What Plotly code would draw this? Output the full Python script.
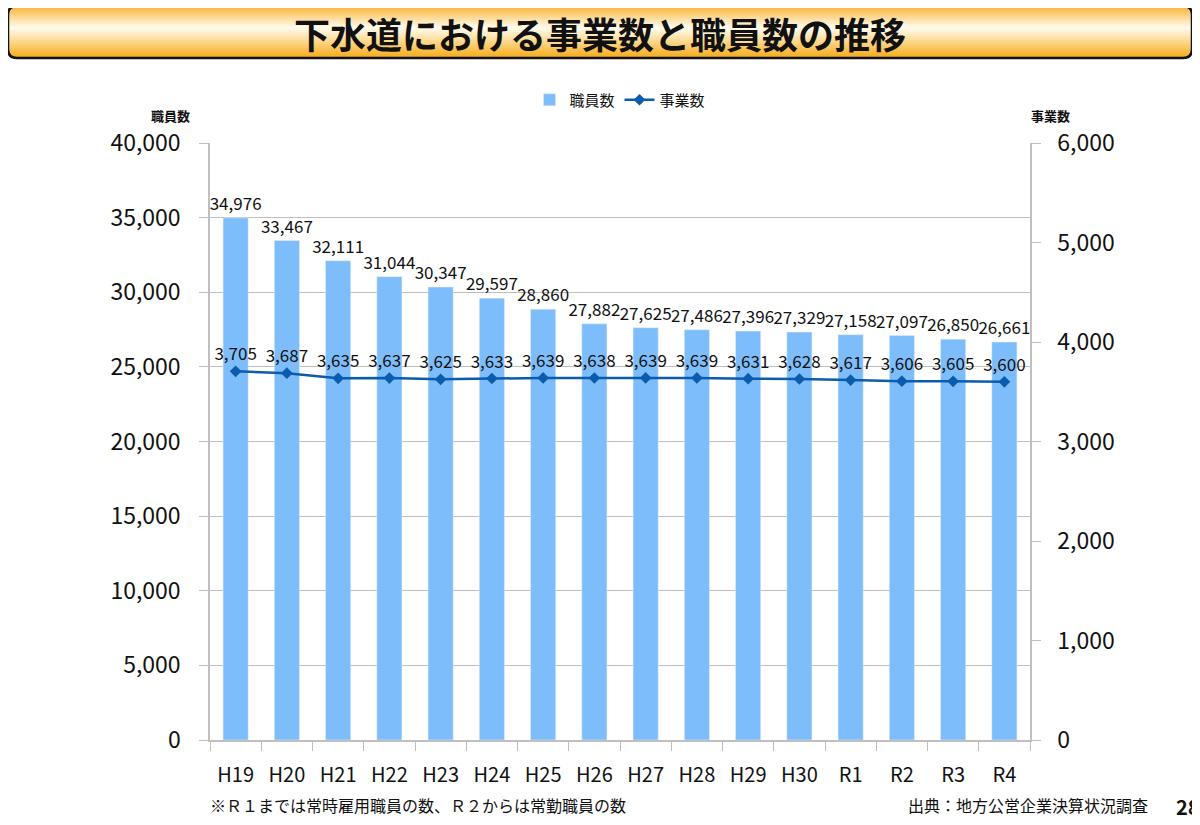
import plotly.graph_objects as go
from plotly.subplots import make_subplots

# --- データ ---
years = ["H19", "H20", "H21", "H22", "H23", "H24", "H25", "H26",
         "H27", "H28", "H29", "H30", "R1", "R2", "R3", "R4"]
staff = [34976, 33467, 32111, 31044, 30347, 29597, 28860, 27882,
         27625, 27486, 27396, 27329, 27158, 27097, 26850, 26661]
businesses = [3705, 3687, 3635, 3637, 3625, 3633, 3639, 3638,
              3639, 3639, 3631, 3628, 3617, 3606, 3605, 3600]

staff_ticks = [0, 5000, 10000, 15000, 20000, 25000, 30000, 35000, 40000]
biz_ticks = [0, 1000, 2000, 3000, 4000, 5000, 6000]

# ページの余白(8px)ぶんを差し引いて図を作る
OFF = 8
W, H = 1200 - OFF, 825 - OFF
L, R, T, B = 210 - OFF, 1030 - OFF, 143 - OFF, 740 - OFF  # プロット領域(px)

JP = "Noto Sans CJK JP"
BAR_COLOR = "#7DBDFB"
LINE_COLOR = "#0B5CAD"
GRID = "#BFBFBF"


def px_x(x):
    # 参照画像のx座標(px) -> paper座標
    return (x - OFF - L) / (R - L)


def px_y(y):
    return (B - (y - OFF)) / (B - T)


fig = make_subplots(specs=[[{"secondary_y": True}]])

fig.add_trace(go.Bar(
    x=years, y=staff, name="職員数",
    marker_color=BAR_COLOR, width=0.49,
    text=[f"{v:,}" for v in staff], textposition="outside",
    constraintext="none", cliponaxis=False,
    textfont=dict(family=JP, size=17, color="#111111"),
), secondary_y=False)

fig.add_trace(go.Scatter(
    x=years, y=businesses, name="事業数",
    mode="lines+markers+text",
    line=dict(color=LINE_COLOR, width=2.5),
    marker=dict(symbol="diamond", size=9, color=LINE_COLOR),
    text=[f"{v:,}" for v in businesses], textposition="top center",
    textfont=dict(family=JP, size=17, color="#111111"),
    cliponaxis=False,
), secondary_y=True)

# --- タイトル帯（グラデーション風） ---
shapes = []
top, bot = 6, 58
left, right = 8, 1192
n = 26
c_top = (248, 178, 50)
c_mid = (255, 252, 240)
c_bot = (247, 170, 20)
for i in range(n):
    y0 = top + (bot - top) * i / n
    y1 = top + (bot - top) * (i + 1) / n
    t = (i + 0.5) / n
    if t < 0.42:
        f = t / 0.42
        c = [c_top[k] + (c_mid[k] - c_top[k]) * f for k in range(3)]
    else:
        f = (t - 0.42) / 0.58
        c = [c_mid[k] + (c_bot[k] - c_mid[k]) * f for k in range(3)]
    inset = 5 if i in (0, n - 1) else (2 if i in (1, n - 2) else 0)
    shapes.append(dict(
        type="rect", xref="paper", yref="paper", layer="below",
        x0=px_x(left + inset), x1=px_x(right - inset),
        y0=px_y(y1 + 0.3), y1=px_y(y0),
        fillcolor="rgb({:.0f},{:.0f},{:.0f})".format(*c), line_width=0,
    ))

# 角丸の枠線
r = 9
rx, ry = r / (R - L), r / (B - T)
x0, x1 = px_x(left), px_x(right)
y0, y1 = px_y(bot), px_y(top)
path = (f"M {x0 + rx},{y1} L {x1 - rx},{y1} Q {x1},{y1} {x1},{y1 - ry} "
        f"L {x1},{y0 + ry} Q {x1},{y0} {x1 - rx},{y0} "
        f"L {x0 + rx},{y0} Q {x0},{y0} {x0},{y0 + ry} "
        f"L {x0},{y1 - ry} Q {x0},{y1} {x0 + rx},{y1} Z")
shapes.append(dict(type="path", xref="paper", yref="paper", path=path,
                   line=dict(color="#111111", width=2.5)))


def note(text, x, y, size, xanchor="center"):
    return dict(text=text, x=px_x(x), y=px_y(y), xref="paper", yref="paper",
                xanchor=xanchor, yanchor="middle", showarrow=False,
                font=dict(family=JP, size=size, color="#111111"))


annotations = [
    note("<b>下水道における事業数と職員数の推移</b>", 600, 33, 36),
    note("<b>職員数</b>", 170, 115, 13),
    note("<b>事業数</b>", 1050, 116, 13),
    note("※Ｒ１までは常時雇用職員の数、Ｒ２からは常勤職員の数", 208, 805, 16, "left"),
    note("出典：地方公営企業決算状況調査", 1150, 805, 16, "right"),
    note("<b>28</b>", 1174, 806, 20, "left"),
]

fig.update_layout(
    width=W, height=H,
    margin=dict(l=L, r=W - R, t=T, b=H - B, autoexpand=False),
    plot_bgcolor="white", paper_bgcolor="white",
    bargap=0.51,
    shapes=shapes, annotations=annotations,
    legend=dict(orientation="h", x=0.5, xanchor="center",
                y=px_y(100), yanchor="middle",
                font=dict(family=JP, size=15, color="#111111"),
                tracegroupgap=0),
)

fig.update_xaxes(
    domain=[0, 1], range=[-0.5, len(years) - 0.5],
    showline=True, linecolor=GRID, linewidth=1.5,
    ticks="outside", tickson="boundaries", ticklen=9, tickcolor=GRID,
    ticklabelstandoff=16, tickangle=0,
    tickfont=dict(family=JP, size=20, color="#111111"),
)
fig.update_yaxes(
    range=[0, 40000], tickvals=staff_ticks,
    ticktext=[f"{v:,}" for v in staff_ticks],
    showgrid=True, gridcolor=GRID, gridwidth=1,
    showline=True, linecolor=GRID, linewidth=1.5,
    ticks="outside", ticklen=9, tickcolor=GRID, ticklabelstandoff=14,
    zeroline=False,
    tickfont=dict(family=JP, size=23, color="#111111"),
    secondary_y=False,
)
fig.update_yaxes(
    range=[0, 6000], tickvals=biz_ticks,
    ticktext=[f"{v:,}" for v in biz_ticks],
    showgrid=False,
    showline=True, linecolor=GRID, linewidth=1.5,
    ticks="outside", ticklen=9, tickcolor=GRID, ticklabelstandoff=12,
    zeroline=False,
    tickfont=dict(family=JP, size=23, color="#111111"),
    secondary_y=True,
)

fig.write_html("out.html")
